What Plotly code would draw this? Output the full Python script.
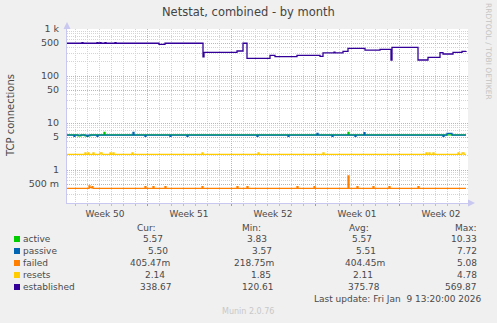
import plotly.graph_objects as go

# ---------------- data ----------------
established_t = ["2025-12-07 08:00", "2025-12-08 14:00", "2025-12-08 16:00", "2025-12-09 20:00", "2025-12-09 22:00",
                 "2025-12-10 02:00", "2025-12-10 04:00", "2025-12-10 12:00", "2025-12-10 14:00", "2025-12-11 08:00",
                 "2025-12-11 10:00", "2025-12-15 00:00", "2025-12-15 12:00", "2025-12-18 16:00", "2025-12-18 18:00",
                 "2025-12-21 12:00", "2025-12-22 00:00", "2025-12-22 08:00", "2025-12-24 06:00", "2025-12-24 16:00",
                 "2025-12-26 12:00", "2025-12-28 10:00", "2025-12-28 16:00", "2025-12-29 14:00", "2025-12-29 16:00",
                 "2025-12-30 08:00", "2025-12-30 18:00", "2026-01-01 04:00", "2026-01-02 10:00", "2026-01-03 08:00",
                 "2026-01-03 10:00", "2026-01-05 14:00", "2026-01-06 10:00", "2026-01-07 10:00", "2026-01-07 16:00",
                 "2026-01-08 12:00", "2026-01-09 06:00", "2026-01-09 14:00"]
established_v = [497, 510, 497, 510, 497,
                 510, 497, 510, 497, 510,
                 497, 470, 497, 254, 319,
                 340, 497, 238, 276, 258,
                 276, 262, 309, 320, 309,
                 335, 388, 357, 370, 219,
                 408, 219, 250, 314, 294,
                 319, 335, 338.67]

passive_t = ["2025-12-07 08:00", "2025-12-07 22:00", "2025-12-08 00:00", "2025-12-09 00:00", "2025-12-09 02:00",
             "2025-12-09 20:00", "2025-12-09 22:00", "2025-12-12 20:00", "2025-12-12 22:00", "2025-12-13 20:00",
             "2025-12-13 22:00", "2025-12-15 22:00", "2025-12-16 00:00", "2025-12-17 08:00", "2025-12-17 10:00",
             "2025-12-23 04:00", "2025-12-23 06:00", "2025-12-25 18:00", "2025-12-25 20:00", "2025-12-28 04:00",
             "2025-12-28 06:00", "2025-12-29 10:00", "2025-12-29 12:00", "2025-12-31 08:00", "2025-12-31 10:00",
             "2026-01-01 02:00", "2026-01-01 04:00", "2026-01-07 16:00", "2026-01-07 18:00", "2026-01-08 00:00",
             "2026-01-08 10:00", "2026-01-09 14:00"]
passive_v = [5.5, 5.2, 5.5, 5.2, 5.5,
             5.2, 5.5, 6.3, 5.5, 5.2,
             5.5, 5.2, 5.5, 5.2, 5.5,
             5.2, 5.5, 5.2, 5.5, 6.0,
             5.5, 5.2, 5.5, 5.2, 5.5,
             6.2, 5.5, 5.2, 5.5, 6.0,
             5.5, 5.5]

active_t = ["2025-12-07 08:00", "2025-12-08 06:00", "2025-12-08 12:00", "2025-12-08 20:00", "2025-12-09 06:00",
            "2025-12-10 10:00", "2025-12-10 12:00", "2025-12-30 18:00", "2025-12-30 20:00", "2026-01-09 14:00"]
active_v = [5.57, 5.3, 5.57, 5.3, 5.57,
            6.3, 5.57, 6.3, 5.57, 5.57]

resets_t = ["2025-12-07 08:00", "2025-12-08 20:00", "2025-12-08 22:00", "2025-12-09 02:00", "2025-12-09 04:00",
            "2025-12-09 12:00", "2025-12-09 14:00", "2025-12-10 02:00", "2025-12-10 06:00", "2025-12-10 22:00",
            "2025-12-11 00:00", "2025-12-11 04:00", "2025-12-11 06:00", "2025-12-12 18:00", "2025-12-12 20:00",
            "2025-12-18 14:00", "2025-12-18 16:00", "2025-12-23 06:00", "2025-12-23 08:00", "2025-12-28 16:00",
            "2025-12-28 18:00", "2026-01-06 06:00", "2026-01-06 08:00", "2026-01-06 12:00", "2026-01-06 14:00",
            "2026-01-06 20:00", "2026-01-06 22:00", "2026-01-08 22:00", "2026-01-09 00:00", "2026-01-09 06:00",
            "2026-01-09 10:00", "2026-01-09 14:00"]
resets_v = [2.14, 2.3, 2.14, 2.3, 2.14,
            2.3, 2.14, 2.3, 2.14, 2.3,
            2.14, 2.3, 2.14, 2.3, 2.14,
            2.3, 2.14, 2.3, 2.14, 2.3,
            2.14, 2.3, 2.14, 2.3, 2.14,
            2.3, 2.14, 2.3, 2.14, 2.3,
            2.14, 2.14]

failed_t = ["2025-12-07 08:00", "2025-12-09 04:00", "2025-12-09 06:00", "2025-12-09 10:00", "2025-12-09 12:00",
            "2025-12-13 20:00", "2025-12-13 22:00", "2025-12-14 12:00", "2025-12-14 14:00", "2025-12-15 12:00",
            "2025-12-15 14:00", "2025-12-18 14:00", "2025-12-18 16:00", "2025-12-21 12:00", "2025-12-21 14:00",
            "2025-12-22 08:00", "2025-12-22 10:00", "2025-12-26 12:00", "2025-12-26 14:00", "2025-12-27 22:00",
            "2025-12-28 00:00", "2025-12-30 18:00", "2025-12-30 20:00", "2025-12-31 12:00", "2025-12-31 14:00",
            "2026-01-01 20:00", "2026-01-01 22:00", "2026-01-03 04:00", "2026-01-03 06:00", "2026-01-05 14:00",
            "2026-01-05 16:00", "2026-01-09 14:00"]
failed_v = [0.405, 0.46, 0.42, 0.44, 0.405,
            0.44, 0.405, 0.44, 0.405, 0.44,
            0.405, 0.44, 0.405, 0.44, 0.405,
            0.44, 0.405, 0.44, 0.405, 0.44,
            0.405, 0.75, 0.405, 0.44, 0.405,
            0.44, 0.405, 0.44, 0.405, 0.44,
            0.405, 0.405]

series_names = ["active", "passive", "failed", "resets", "established"]
series_colors = ["#00CC00", "#0066B3", "#FF8000", "#FFCC00", "#330099"]
cur_vals = ["5.57", "5.50", "405.47m", "2.14", "338.67"]
min_vals = ["3.83", "3.57", "218.75m", "1.85", "120.61"]
avg_vals = ["5.57", "5.51", "404.45m", "2.11", "375.78"]
max_vals = ["10.33", "7.72", "5.08", "4.78", "569.87"]

y_tickvals = [0.5, 1, 5, 10, 50, 100, 500, 1000]
y_ticktext = ["500 m", "1", "5", "10", "50", "100", "500", "1 k"]
y_minor = [m * 10 ** e for e in range(-1, 3) for m in (2, 3, 4, 6, 7, 8, 9)]
week_sundays = ["2025-12-14", "2025-12-21", "2025-12-28", "2026-01-04"]
week_label_pos = ["2025-12-10 12:00", "2025-12-17 12:00", "2025-12-24 12:00", "2025-12-31 12:00", "2026-01-07 12:00"]
week_labels = ["Week 50", "Week 51", "Week 52", "Week 01", "Week 02"]
x_range = ["2025-12-07 08:00", "2026-01-09 18:00"]

# ---------------- layout helpers ----------------
W, H = 497, 323
L, R, T, B = 67, 468, 29, 203
FONT = "DejaVu Sans"
TXT = "#4a4a4a"


def px(x):
    return (x - L) / (R - L)


def py(y):
    return (B - y) / (B - T)


fig = go.Figure()
data = {
    "active": (active_t, active_v),
    "passive": (passive_t, passive_v),
    "failed": (failed_t, failed_v),
    "resets": (resets_t, resets_v),
    "established": (established_t, established_v),
}
for name, col in zip(series_names, series_colors):
    t, v = data[name]
    fig.add_trace(go.Scatter(x=t, y=v, mode="lines", name=name, line=dict(color=col, width=1.3, shape="hv"),
                             showlegend=False, hoverinfo="skip"))

# invisible trace for the label axis
fig.add_trace(go.Scatter(x=x_range, y=[1, 1], xaxis="x2", mode="lines", line=dict(width=0),
                         showlegend=False, hoverinfo="skip", opacity=0))

GRID_MINOR = "#d4d4d4"
GRID_MAJOR = "#e9a3a3"
DASH = "1px,1px"

fig.update_layout(
    width=W, height=H,
    margin=dict(l=L, r=W - R, t=T, b=H - B, pad=0),
    paper_bgcolor="#F0F0F0",
    plot_bgcolor="#FFFFFF",
    font=dict(family=FONT, size=9, color=TXT),
    xaxis=dict(
        type="date", range=x_range, tickvals=week_sundays, ticktext=["", "", "", ""],
        showgrid=True, gridcolor=GRID_MAJOR, griddash=DASH, gridwidth=1,
        ticks="outside", ticklen=2, tickcolor="#e08080",
        minor=dict(dtick=86400000, tick0="2025-12-07", showgrid=True, gridcolor=GRID_MINOR, griddash=DASH,
                   ticks="outside", ticklen=2, tickcolor="#c0c0c0"),
        showline=True, linecolor="#c8c8f0", linewidth=1, zeroline=False,
    ),
    xaxis2=dict(
        type="date", range=x_range, overlaying="x", side="bottom", anchor="y",
        tickvals=week_label_pos, ticktext=week_labels, showgrid=False, ticks="", showline=False,
        tickfont=dict(family=FONT, size=9, color=TXT), ticklabelstandoff=4,
    ),
    yaxis=dict(
        type="log", range=[-0.702, 3.0], tickvals=y_tickvals, ticktext=y_ticktext,
        showgrid=True, gridcolor=GRID_MAJOR, griddash=DASH, gridwidth=1,
        minor=dict(tickvals=y_minor, showgrid=True, gridcolor=GRID_MINOR, griddash=DASH),
        ticks="", ticklabelstandoff=5, tickfont=dict(family=FONT, size=9.5, color=TXT),
        showline=True, linecolor="#c8c8f0", linewidth=1, zeroline=False,
    ),
    showlegend=False,
)

ann = []
# title
ann.append(dict(text="Netstat, combined - by month", x=px(248), y=py(12), xanchor="center", yanchor="middle",
                font=dict(size=11.5, color="#444444")))
# y axis title
ann.append(dict(text="TCP connections", x=px(10), y=py(116), textangle=-90, xanchor="center", yanchor="middle",
                font=dict(size=10, color=TXT)))
# watermark
ann.append(dict(text="RRDTOOL / TOBI OETIKER", x=px(488), y=py(51), textangle=90, xanchor="center",
                yanchor="middle", font=dict(size=7.5, color="#c4c4c4")))

# legend table
row_y = [239, 251, 263, 275, 287]
hdr_y = 227.5
for txt, cx in [("Cur:", 146), ("Min:", 251), ("Avg:", 359)]:
    ann.append(dict(text=txt, x=px(cx), y=py(hdr_y), xanchor="center", yanchor="middle"))
ann.append(dict(text="Max:", x=px(479), y=py(hdr_y), xanchor="right", yanchor="middle"))

cur_cx = [153, 158, 150, 154.5, 155.5]
min_cx = [257, 262, 254, 261, 258]
avg_cx = [362, 366, 365, 363, 364]
shapes = []
for i, name in enumerate(series_names):
    yy = row_y[i]
    shapes.append(dict(type="rect", xref="paper", yref="paper", x0=px(14), x1=px(20), y0=py(yy + 3), y1=py(yy - 3),
                       fillcolor=series_colors[i], line=dict(width=0)))
    ann.append(dict(text=name, x=px(20.5), y=py(yy), xanchor="left", yanchor="middle"))
    ann.append(dict(text=cur_vals[i], x=px(cur_cx[i]), y=py(yy), xanchor="center", yanchor="middle"))
    ann.append(dict(text=min_vals[i], x=px(min_cx[i]), y=py(yy), xanchor="center", yanchor="middle"))
    ann.append(dict(text=avg_vals[i], x=px(avg_cx[i]), y=py(yy), xanchor="center", yanchor="middle"))
    ann.append(dict(text=max_vals[i], x=px(479), y=py(yy), xanchor="right", yanchor="middle"))

ann.append(dict(text="Last update: Fri Jan  9 13:20:00 2026".replace("  ", "&nbsp; "), x=px(483), y=py(299),
                xanchor="right", yanchor="middle"))
ann.append(dict(text="Munin 2.0.76", x=px(248), y=py(311), xanchor="center", yanchor="middle",
                font=dict(size=8, color="#c8c8c8")))

for a in ann:
    a.setdefault("xref", "paper")
    a.setdefault("yref", "paper")
    a.setdefault("showarrow", False)
    a.setdefault("font", dict(size=9, color=TXT))

# axis arrows
AX = "#c8c8f0"
shapes.append(dict(type="path", xref="paper", yref="paper",
                   path=f"M {px(63.5)} {py(29)} L {px(70.5)} {py(29)} L {px(67)} {py(22)} Z",
                   fillcolor=AX, line=dict(width=0)))
shapes.append(dict(type="path", xref="paper", yref="paper",
                   path=f"M {px(468)} {py(199.5)} L {px(468)} {py(206.5)} L {px(475)} {py(203)} Z",
                   fillcolor=AX, line=dict(width=0)))

fig.update_layout(annotations=ann, shapes=shapes)
fig.write_html("out.html")
